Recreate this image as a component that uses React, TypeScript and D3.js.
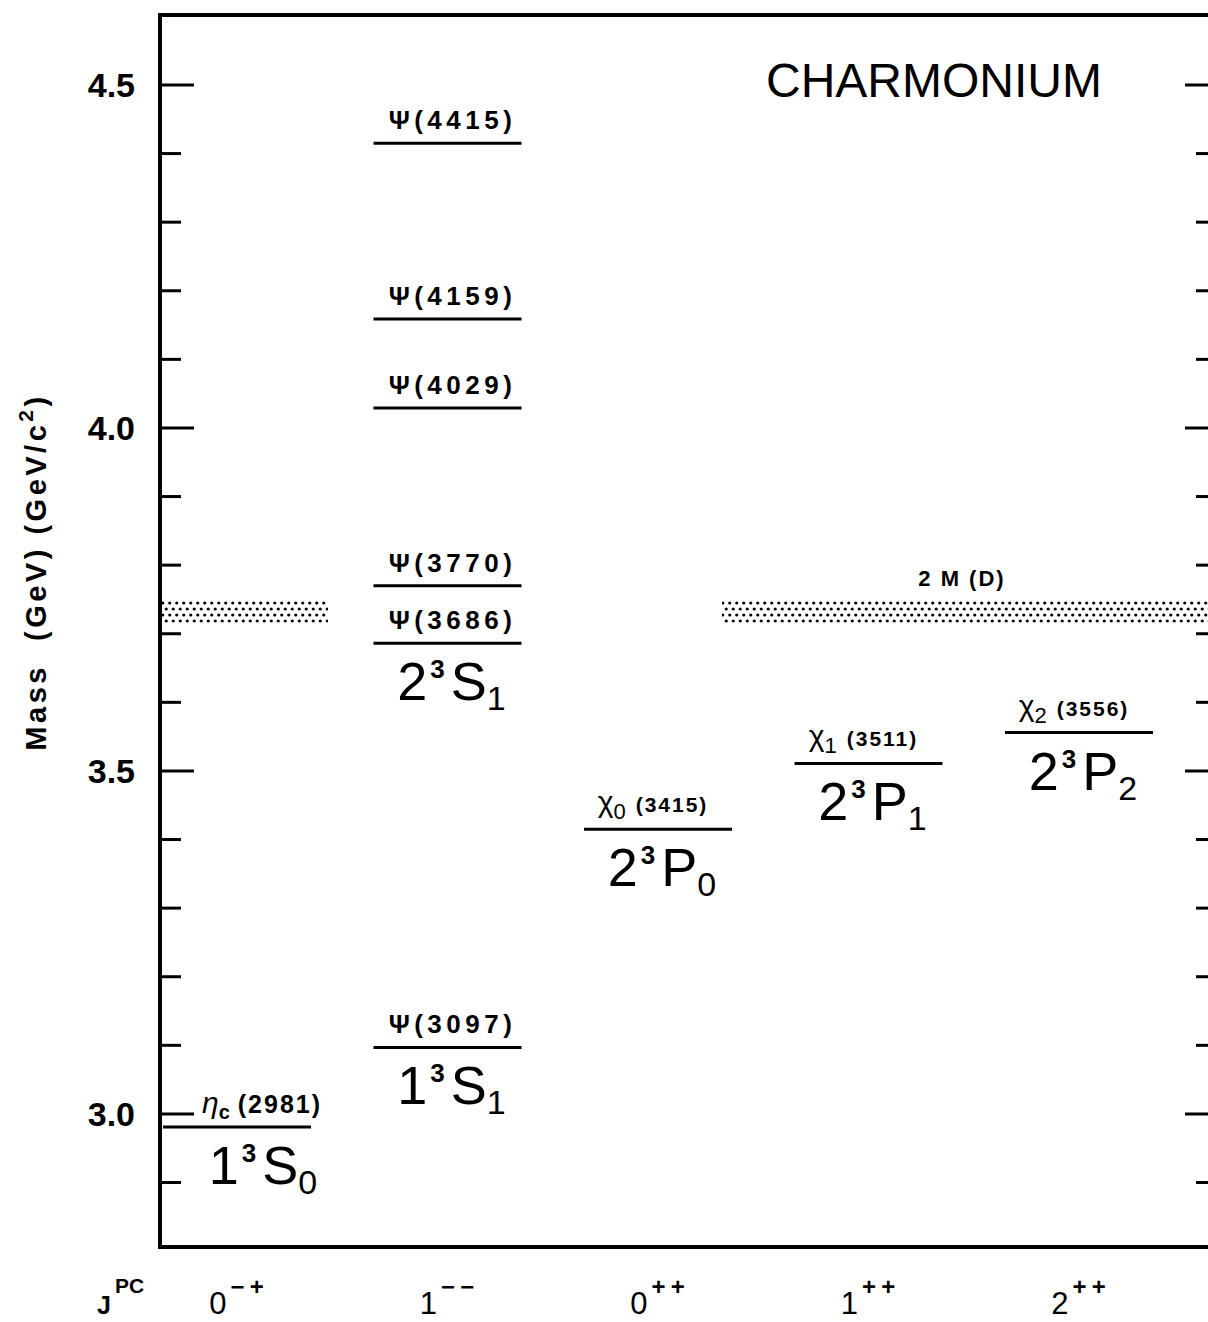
import React, { useEffect, useRef } from 'react';
import * as d3 from 'd3';

// J^PC columns
const columns = ['0-+', '1--', '0++', '1++', '2++'];
const columnSpin = ['0', '1', '0', '1', '2'];
const columnParity = ['\u2212+', '\u2212\u2212', '++', '++', '++'];

// observed states (mass in MeV)
const stateSymbols = ['\u03b7', '\u03a8', '\u03a8', '\u03a8', '\u03a8', '\u03a8', '\u03a8', '\u03c7', '\u03c7', '\u03c7'];
const stateSubs = ['c', '', '', '', '', '', '', '0', '1', '2'];
const stateMasses = [2981, 3097, 3686, 3770, 4029, 4159, 4415, 3415, 3511, 3556];
const stateColumns = ['0-+', '1--', '1--', '1--', '1--', '1--', '1--', '0++', '1++', '2++'];

// spectroscopic terms written under a level
const termMasses = [2981, 3097, 3686, 3415, 3511, 3556];
const termColumns = ['0-+', '1--', '1--', '0++', '1++', '2++'];
const termN = ['1', '1', '2', '2', '2', '2'];
const termL = ['S', 'S', 'S', 'P', 'P', 'P'];
const termJ = ['0', '1', '1', '0', '1', '2'];

// open charm threshold 2M(D), GeV
const thresholdLabel = '2 M (D)';
const thresholdBand = [3.716, 3.748];

const yTickLabels = ['3.0', '3.5', '4.0', '4.5'];

const FONT = '"Liberation Sans", Arial, sans-serif';

const App = () => {
    const ref = useRef(null);
    const width = 1208;
    const height = 1322;
    const left = 160, top = 15, bottom = 1247, rightAxis = 1220;

    useEffect(() => {
        const svg = d3.select(ref.current);
        svg.selectAll('*').remove();

        const y = d3.scaleLinear().domain([2.806, 4.602]).range([bottom, top]);
        const x = d3.scalePoint().domain(columns).range([237, 1079]);
        const shift = (c) => (c === '0-+' ? 26 : 4);

        const defs = svg.append('defs');
        const pat = defs.append('pattern')
            .attr('id', 'stipple')
            .attr('patternUnits', 'userSpaceOnUse')
            .attr('width', 7).attr('height', 12);
        pat.append('circle').attr('cx', 1.75).attr('cy', 3).attr('r', 1.6).attr('fill', '#000');
        pat.append('circle').attr('cx', 5.25).attr('cy', 9).attr('r', 1.6).attr('fill', '#000');

        svg.append('rect').attr('width', width).attr('height', height).attr('fill', '#fff');

        // threshold bands
        const bandY = y(thresholdBand[1]);
        const bandH = y(thresholdBand[0]) - y(thresholdBand[1]);
        svg.append('rect')
            .attr('x', left).attr('y', bandY)
            .attr('width', x('0-+') + 91 - left).attr('height', bandH)
            .attr('fill', 'url(#stipple)');
        svg.append('rect')
            .attr('x', x('0++') + 64).attr('y', bandY)
            .attr('width', rightAxis - x('0++') - 64).attr('height', bandH)
            .attr('fill', 'url(#stipple)');
        svg.append('text')
            .attr('x', 962).attr('y', bandY - 15)
            .attr('text-anchor', 'middle')
            .style('font-family', FONT).style('font-weight', 'bold')
            .style('font-size', '22px').style('letter-spacing', '2px')
            .text(thresholdLabel);

        // frame
        svg.append('path')
            .attr('d', `M${rightAxis},${top}H${left}V${bottom}H${rightAxis}`)
            .attr('fill', 'none').attr('stroke', '#000').attr('stroke-width', 4);

        // ticks
        const ticks = y.ticks(18).filter((t) => t < 4.55);
        const isMajor = (t) => Math.abs(t * 2 - Math.round(t * 2)) < 1e-6;
        svg.selectAll('.ltick').data(ticks).enter().append('line')
            .attr('x1', left).attr('x2', (t) => left + (isMajor(t) ? 34 : 21))
            .attr('y1', (t) => y(t)).attr('y2', (t) => y(t))
            .attr('stroke', '#000').attr('stroke-width', 3);
        svg.selectAll('.rtick').data(ticks).enter().append('line')
            .attr('x1', rightAxis).attr('x2', (t) => rightAxis - (isMajor(t) ? 35 : 24))
            .attr('y1', (t) => y(t)).attr('y2', (t) => y(t))
            .attr('stroke', '#000').attr('stroke-width', 3);
        svg.selectAll('.tlabel').data(yTickLabels).enter().append('text')
            .attr('x', 135).attr('y', (d) => y(+d))
            .attr('dy', '0.36em').attr('text-anchor', 'end')
            .style('font-family', FONT).style('font-weight', 'bold').style('font-size', '34px')
            .text((d) => d);

        // axis title
        const title = svg.append('text')
            .attr('transform', 'translate(46,572) rotate(-90)')
            .attr('text-anchor', 'middle')
            .style('font-family', FONT).style('font-weight', 'bold')
            .style('font-size', '29px').style('letter-spacing', '3.5px');
        title.append('tspan').text('Mass\u00a0\u00a0(GeV)\u00a0(GeV/c');
        title.append('tspan').attr('dy', -13).style('font-size', '21px').text('2');
        title.append('tspan').attr('dy', 13).text(')');

        // levels
        const states = stateMasses.map((m, i) => ({
            m, sym: stateSymbols[i], sub: stateSubs[i], col: stateColumns[i],
        }));
        svg.selectAll('.level').data(states).enter().append('line')
            .attr('x1', (d) => x(d.col) - 74).attr('x2', (d) => x(d.col) + 74)
            .attr('y1', (d) => y(d.m / 1000)).attr('y2', (d) => y(d.m / 1000))
            .attr('stroke', '#000').attr('stroke-width', 3);

        states.forEach((d) => {
            const t = svg.append('text')
                .attr('x', x(d.col) + (d.col === '0-+' ? 25 : d.sym === '\u03c7' ? -5 : 5))
                .attr('y', y(d.m / 1000) - (d.sym === '\u03c7' ? 17 : 14))
                .attr('text-anchor', 'middle')
                .style('font-family', FONT).style('font-weight', 'bold');
            if (d.sym === '\u03a8') {
                t.style('font-size', '26px').style('letter-spacing', '4.5px')
                    .text(`${d.sym}(${d.m})`);
            } else if (d.sym === '\u03b7') {
                t.append('tspan').style('font-size', '30px').style('font-style', 'italic')
                    .style('font-weight', 'normal').text(d.sym);
                t.append('tspan').attr('dy', 6).style('font-size', '20px').text(d.sub);
                t.append('tspan').attr('dy', -6).attr('dx', 8).style('font-size', '25px')
                    .style('letter-spacing', '2px').text(`(${d.m})`);
            } else {
                t.append('tspan').style('font-size', '30px').style('font-weight', 'normal').text(d.sym);
                t.append('tspan').attr('dy', 7).style('font-size', '22px').style('font-weight', 'normal').text(d.sub);
                t.append('tspan').attr('dy', -7).attr('dx', 10).style('font-size', '21px')
                    .style('letter-spacing', '2px').text(`(${d.m})`);
            }
        });

        // spectroscopic terms
        termMasses.forEach((m, i) => {
            const c = termColumns[i];
            const t = svg.append('text')
                .attr('x', x(c) + shift(c)).attr('y', y(m / 1000) + 57)
                .attr('text-anchor', 'middle')
                .style('font-family', FONT).style('font-size', '54px');
            t.append('tspan').text(termN[i]);
            t.append('tspan').attr('dy', -22).attr('dx', 3).style('font-size', '26px')
                .style('font-weight', 'bold').text('3');
            t.append('tspan').attr('dy', 22).attr('dx', 6).text(termL[i]);
            t.append('tspan').attr('dy', 10).style('font-size', '34px').text(termJ[i]);
        });

        // J^PC row
        const jpc = svg.append('text').attr('x', 97).attr('y', 1314)
            .style('font-family', FONT).style('font-weight', 'bold').style('font-size', '25px');
        jpc.append('tspan').text('J');
        jpc.append('tspan').attr('dy', -21).attr('dx', 4).style('font-size', '21px').text('PC');

        columns.forEach((c, i) => {
            const t = svg.append('text').attr('x', x(c) + 2).attr('y', 1314)
                .attr('text-anchor', 'middle')
                .style('font-family', FONT).style('font-size', '31px');
            t.append('tspan').text(columnSpin[i]);
            t.append('tspan').attr('dy', -19).attr('dx', 4).style('font-size', '24px')
                .style('font-weight', 'bold').style('letter-spacing', '5px').text(columnParity[i]);
        });

        // title
        svg.append('text')
            .attr('x', 934).attr('y', 97).attr('text-anchor', 'middle')
            .style('font-family', FONT).style('font-size', '48px')
            .text('CHARMONIUM');
    }, []);

    return (
        <svg ref={ref} width={width} height={height}
            style={{ position: 'absolute', left: 0, top: 0, display: 'block' }} />
    );
};

export default App;
